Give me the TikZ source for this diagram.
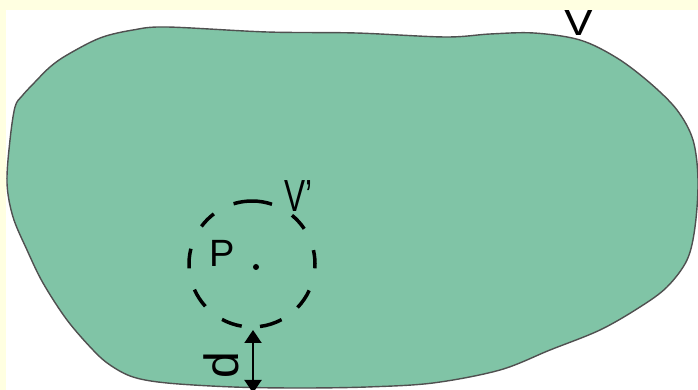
\documentclass[tikz,border=0pt]{standalone}
\usepackage{fontspec}
\setmainfont{Liberation Sans}
\usetikzlibrary{arrows.meta}
\definecolor{bgyellow}{RGB}{255,255,225}
\definecolor{blobgreen}{RGB}{128,196,166}
\definecolor{edgegray}{RGB}{80,80,80}
\begin{document}
\begin{tikzpicture}[x=1pt,y=1pt,
  lbl/.style={inner sep=0pt, outer sep=0pt, text=black},
  dashring/.style={line width=3.5pt, black},
  dimarrow/.style={line width=2pt, {Triangle[width=17pt,length=13pt]}-{Triangle[width=17pt,length=13pt]}}]
\useasboundingbox (0,0) rectangle (698,390);
\clip (0,0) rectangle (698,390);
\fill[bgyellow] (0,0) rectangle (698,390);
\fill[white] (6,0) rectangle (698,380);
% blob
\draw[fill=blobgreen, draw=edgegray, line width=1.4pt]
  plot[smooth cycle, tension=0.55] coordinates {
  (7,207) (10,250) (15,283) (22,294) (35,308) (50,323) (67,335) (100,352) (133,360) (167,363)
  (267,358) (356,357) (445,353) (490,356) (534,357) (580,350) (617,332) (650,307) (677,280)
  (693,250) (698,210) (695,163) (687,130) (667,103) (640,83) (600,60) (550,40) (500,20)
  (433,7) (367,3) (300,2) (233,3) (167,7) (133,13) (110,25) (93,40) (67,70) (43,107)
  (27,140) (13,173)};
% dashed circle V'
\coordinate (c) at (252,126);
\foreach \a/\b in {71.5/107, 34/50.6, -3.9/12.7, -43.7/-24.8, -82.7/-62, -118.4/-99.4, -156/-137.8, 166/184, 127.3/143.4}
  \draw[dashring] (c) ++(\a:63) arc[start angle=\a, end angle=\b, radius=63];
% point P
\fill (256,123) circle (3);
\node[lbl, anchor=base west] (P) at (209,123) {\fontsize{38}{40}\selectfont P};
\node[lbl, anchor=base west] (Vp) at (284,178) {\fontsize{45}{48}\selectfont\scalebox{0.7}[1]{V’}};
% distance d
\coordinate (dtop) at (253,60);
\coordinate (dbot) at (253,-3);
\draw[dimarrow] (dtop) -- (dbot);
\node[lbl, rotate=90, anchor=base] (d) at (238,25) {\fontsize{48}{50}\selectfont d};
% label V
\node[lbl, anchor=base] (V) at (579,354) {\fontsize{40}{42}\selectfont\scalebox{1.15}[1]{V}};
\fill[bgyellow] (0,380) rectangle (698,390);
\end{tikzpicture}
\end{document}
